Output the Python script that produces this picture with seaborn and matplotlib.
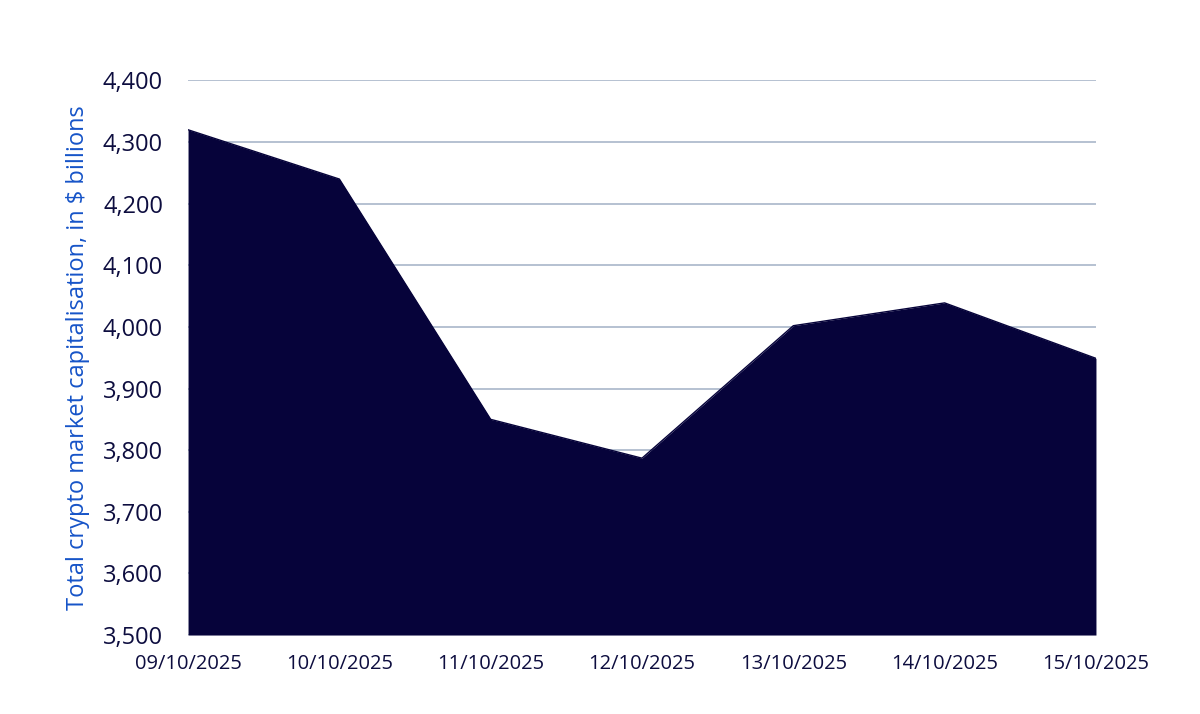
import pandas as pd
import matplotlib.pyplot as plt
import seaborn as sns

dates = ["09/10/2025", "10/10/2025", "11/10/2025", "12/10/2025",
         "13/10/2025", "14/10/2025", "15/10/2025"]
market_cap = [4320, 4240, 3850, 3787, 4002, 4039, 3949]

y_ticks = [3500, 3600, 3700, 3800, 3900, 4000, 4100, 4200, 4300, 4400]

FILL = "#06033a"
TEXT = "#0d0d3f"
BLUE = "#1654c8"
GRID = "#a9b6c9"


def main():
    sns.set_theme(style="white")
    plt.rcParams["font.family"] = ["Open Sans", "DejaVu Sans"]

    df = pd.DataFrame({"date": dates, "cap": market_cap})
    df["pos"] = range(len(df))

    fig = plt.figure(figsize=(12, 7.14), dpi=100)
    ax = fig.add_axes([0.1567, 0.1106, 0.7566, 0.7767])

    ax.fill_between(df["pos"], df["cap"], 3500, color=FILL, linewidth=0, zorder=2)
    sns.lineplot(data=df, x="pos", y="cap", color=FILL, linewidth=1, ax=ax, zorder=3)

    ax.set_xlim(0, len(df) - 1)
    ax.set_ylim(3500, 4400)
    ax.set_yticks(y_ticks)
    ax.set_yticklabels([f"{v:,}" for v in y_ticks], fontsize=17, color=TEXT)
    ax.set_xticks(df["pos"])
    ax.set_xticklabels(df["date"], fontsize=14.5, color=TEXT)
    ax.tick_params(axis="both", length=0)
    ax.tick_params(axis="y", pad=18)
    ax.tick_params(axis="x", pad=14)

    ax.grid(axis="y", color=GRID, linewidth=1.2, zorder=1)
    ax.set_axisbelow(True)
    for s in ax.spines.values():
        s.set_visible(False)

    ax.set_xlabel("")
    ax.set_ylabel("Total crypto market capitalisation, in $ billions",
                  fontsize=17, color=BLUE, labelpad=9)

    fig.savefig("out.png", dpi=100, facecolor="white")
    plt.close(fig)


if __name__ == "__main__":
    main()
